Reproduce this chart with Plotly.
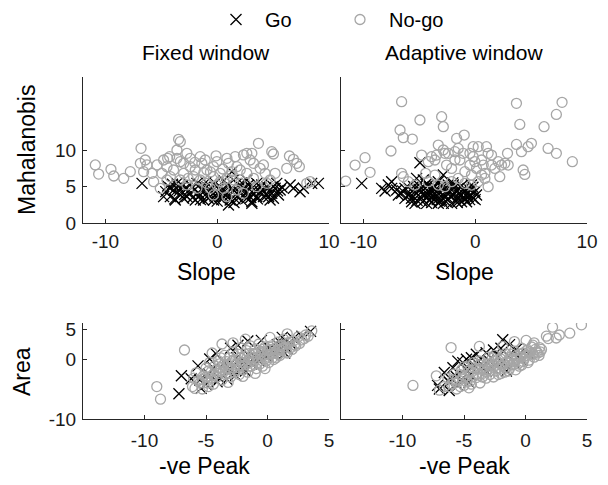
import plotly.graph_objects as go

# ---------------- data ----------------
# Top-left: Fixed window, Slope vs Mahalanobis
fix_go_slope = [-6.72, -4.43, -4.19, -3.9, -3.6, -3.3, -3.0, -2.71, -2.41, -1.96, -1.66, -1.37, -0.92, -0.62,
                -0.33, -0.03, 0.27, 0.57, 1.01, 1.16, 1.46, 1.76, 2.06, 2.35, 2.65, 2.95, 3.1, 3.25, 3.54, 3.84,
                4.14, 4.44, 4.73, 4.88, 5.18, 5.33, 5.48, 6.52, 6.82, 7.41, 7.71, 8.45, 9.05, -3.45, -1.22, 0.87,
                1.46, 2.65, 1.31, -0.62, 0.27, -2.26, -1.81, 2.06, 3.54, 4.44, -4.79, -3.75, 5.63, 3.99, 0.42,
                -0.18, 1.76, 0.87, -1.52, 2.65, -2.71, -4.19, 5.03,
                -3.8, -3.4, -3.1, -2.9, -2.5, -2.2, -2.0, -1.7, -1.5, -1.1, -0.8, -0.5, -0.2, 0.1, 0.4, 0.7,
                1.0, 1.3, 1.6, 1.9, 2.2, 2.5, 2.8, 3.0, 3.3, 3.6, 3.9, 4.2, 4.6, 5.0, 5.4, 5.8, -4.6, -4.0,
                0.0, 1.5, 2.2, -1.0, 0.6, 3.1]
fix_go_maha = [5.43, 5.07, 3.61, 4.52, 5.43, 3.84, 3.38, 4.75, 4.06, 3.15, 3.61, 4.52, 4.98, 3.61,
               3.15, 4.06, 4.98, 3.61, 2.47, 3.15, 4.52, 3.61, 4.06, 4.75, 3.38, 4.98, 2.69, 4.06, 5.43, 4.29,
               3.61, 4.98, 3.15, 4.06, 4.75, 5.43, 3.84, 5.21, 4.75, 4.29, 4.75, 5.43, 5.43, 4.98, 3.15, 5.21,
               5.89, 5.89, 7.03, 4.52, 3.61, 4.98, 5.43, 4.98, 3.61, 3.84, 3.61, 3.15, 4.52, 5.21, 4.29,
               5.43, 5.43, 4.06, 3.84, 4.29, 3.61, 4.75, 3.38,
               3.3, 4.4, 5.1, 3.9, 5.3, 3.5, 4.6, 4.2, 3.2, 4.9, 3.4, 4.3, 3.7, 4.7, 3.2, 4.4,
               3.6, 4.8, 3.3, 4.3, 3.1, 4.0, 5.2, 3.5, 4.6, 3.3, 4.9, 4.3, 3.6, 5.0, 4.4, 4.9, 4.3, 5.3,
               3.0, 2.8, 5.5, 5.6, 5.8, 2.9]
fix_nogo_slope = [-10.9, -10.6, -9.5, -9.25, -8.36, -7.77, -6.81, -6.87, -6.43, -6.58, -6.28, -5.83, -5.68, -5.09,
                  -4.94, -4.79, -4.43, -4.25, -3.45, -3.3, -3.6, -3.3, -3.0, -2.71, -2.41, -1.96, -1.52, -1.37,
                  -1.07, -0.92, -0.33, -0.03, 0.27, 0.87, 1.01, 1.61, 1.76, 2.06, 2.35, 2.65, 2.95, 3.1, 3.25,
                  3.69, 3.84, 4.14, 4.29, 4.88, 5.03, 5.18, 6.22, 6.46, 6.82, 7.12, 7.35, 8.01, 8.31, 4.73,
                  -2.11, -1.52, -0.92, -0.33, 0.27, 0.87, 1.46, 2.06, 2.65, -3.3, -3.0, -3.9, -4.49, -4.19,
                  -0.03, -0.62, 0.57, 1.76, -1.81, -2.71, 0.87, -0.33, 2.35, 3.25, 3.54, -4.49, -5.38, -3.6,
                  -2.41, 1.31, 4.44, -1.2, -0.6, 0.5, -2.0, 1.2, -0.1, -2.6]
fix_nogo_maha = [7.95, 6.7, 7.35, 6.44, 6.12, 7.03, 10.23, 8.17, 8.63, 7.03, 7.95, 6.8, 5.66, 4.75,
                 6.8, 8.63, 8.86, 9.09, 11.46, 11.14, 10.0, 8.4, 8.17, 9.54, 7.72, 7.26, 9.09, 8.17,
                 8.63, 7.26, 7.72, 8.4, 6.8, 8.86, 8.17, 9.09, 7.72, 7.26, 9.32, 9.54, 8.63, 9.54, 8.17,
                 10.91, 7.49, 7.95, 6.8, 9.77, 9.45, 6.8, 7.49, 9.18, 8.72, 8.17, 7.72, 5.43, 5.66, 5.89,
                 6.35, 5.89, 5.43, 6.35, 5.66, 6.12, 5.89, 5.43, 6.8, 5.89, 6.8, 7.26, 5.89, 6.35,
                 5.21, 4.75, 4.75, 4.52, 4.75, 5.21, 3.61, 3.84, 4.06, 6.12, 4.98, 7.72, 7.95, 8.86,
                 8.86, 7.03, 5.43, 6.9, 7.0, 7.4, 8.3, 6.5, 9.2, 6.1]

# Top-right: Adaptive window, Slope vs Mahalanobis
ada_go_slope = [-10.15, -8.36, -8.06, -7.77, -7.47, -7.02, -6.58, -6.28, -5.98, -5.68, -5.38, -4.94, -5.09,
                -4.79, -4.49, -4.34, -4.19, -3.9, -3.6, -3.3, -3.0, -2.85, -2.71, -2.41, -2.11, -1.81, -1.52,
                -1.22, -0.92, -0.62, -0.33, -0.18, -0.03, 0.12, -5.24, -4.64, -3.3, -4.19, -1.52, -2.41, -6.28,
                -5.53, -0.77, -1.96, -2.85, -3.6, -4.79, -4.05, -5.38, -0.47, -6.87, -7.47, -3.7, -2.0, -1.0,
                -4.5, -3.2, -2.5, -1.4, -0.5, -3.9, -2.9,
                -6.0, -5.7, -5.5, -5.2, -5.0, -4.7, -4.4, -4.1, -3.9, -3.6, -3.4, -3.1, -2.9, -2.6, -2.3,
                -2.2, -1.9, -1.7, -1.4, -1.1, -0.9, -0.7, -0.4, -0.2, 0.0, -3.3, -4.7, -2.7, -1.6, -6.5,
                -5.9, -3.8, -2.0, -1.2, -4.3]
ada_go_maha = [5.43, 4.74, 4.38, 5.2, 5.66, 4.52, 4.06, 4.74, 3.83, 2.92, 4.29, 8.26, 5.2,
               3.37, 4.74, 2.69, 3.83, 4.52, 3.37, 4.06, 3.15, 6.57, 4.74, 3.37, 2.69, 4.06, 3.37,
               2.92, 4.29, 3.6, 5.2, 3.37, 4.29, 3.83, 6.11, 5.89, 5.66, 5.2, 4.74, 5.2, 3.37,
               3.6, 2.92, 5.2, 2.69, 4.97, 4.29, 3.15, 2.69, 4.52, 3.83, 4.74, 4.0, 3.8, 3.5,
               3.9, 3.0, 4.3, 4.1, 3.2, 2.8, 4.9,
               4.9, 3.4, 5.0, 3.1, 4.6, 3.9, 5.3, 4.2, 3.5, 4.5, 3.2, 5.0, 3.9, 2.9, 4.4,
               3.6, 4.8, 3.0, 3.8, 4.6, 3.3, 4.0, 3.8, 4.9, 3.2, 2.7, 2.9, 3.5, 2.8, 4.4,
               3.9, 4.9, 5.5, 5.1, 3.5]
ada_nogo_slope = [-11.58, -10.74, -9.85, -9.4, -7.53, -6.58, -6.72, -6.43, -5.62, -4.94, -6.58, -6.43, -5.98,
                  -4.79, -4.43, -4.19, -3.9, -3.45, -3.3, -3.0, -2.85, -2.85, -2.71, -2.41, -2.11, -1.81, -1.66,
                  -1.52, -0.98, -1.07, -0.92, -0.47, -0.18, -0.18, -0.03, 0.12, 0.27, 0.57, 0.72, 0.87, 1.01,
                  1.16, 1.46, 1.76, 2.06, 2.2, 2.35, 2.65, 2.95, 2.89, -2.71, -2.11, -1.52, -0.92, -0.33, 0.27,
                  1.16, 0.87, 3.69, 3.99, 3.69, 4.14, 4.29, 4.44, 4.73, 5.03, 6.16, 6.52, 7.26, 7.26, 7.77,
                  8.69, -4.19, -3.6, -5.38, -3.3, -2.56, -1.37, -0.33, 0.57, -3.6, -1.81, -0.47, 1.46]
ada_nogo_maha = [5.75, 7.94, 8.95, 6.94, 9.86, 16.62, 12.74, 11.69, 11.5, 14.11, 6.8, 6.34, 5.66,
                 9.31, 6.8, 8.4, 9.08, 9.31, 10.68, 14.56, 13.19, 10.0, 9.54, 9.54, 7.48, 9.77, 11.59,
                 10.22, 12.05, 9.54, 7.03, 7.94, 10.45, 9.08, 8.4, 7.48, 10.45, 8.63, 7.94, 6.8, 10.45,
                 9.54, 9.31, 7.48, 8.4, 6.34, 7.94, 8.17, 7.94, 9.54, 4.97, 5.66, 6.11, 5.43, 5.2, 5.66,
                 4.97, 6.11, 16.39, 13.51, 10.77, 9.77, 7.26, 6.66, 10.45, 10.91, 13.19, 10.22, 14.88, 9.54, 16.53,
                 8.4, 5.66, 6.57, 5.2, 5.2, 7.94, 8.63, 6.57, 6.57, 8.63, 8.63, 9.54, 7.94]

# Bottom-left: Fixed window, -ve Peak vs Area
fix_go_peak = [-7.2, -7.0, -6.2, -5.4, -5.65, -4.7, -3.0, -1.6, 0.8, 1.6, 2.1, 3.5, -4.2, -2.4, -0.5, 1.2, 2.8,
               -5.5, -4.8, -4.4, -3.9, -3.5, -3.2, -2.8, -2.5, -2.2, -1.9, -1.6, -1.3, -1.0, -0.7, -0.4, -0.1,
               0.2, 0.5, 0.9, 1.1, 1.4, 1.9, -5.0, -4.1, -3.3, -2.6, -1.8]
fix_go_area = [-5.8, -2.8, -3.3, -4.9, -1.15, 0.0, 1.8, 3.0, 2.4, 1.8, 3.4, 4.6, 0.9, 2.3, 3.1, 3.6, 3.8,
               -3.5, -2.5, -1.5, -3.2, -0.6, -2.0, -1.0, 0.2, -1.6, -0.4, 0.8, -0.8, 0.4, -0.3, 1.0, 0.5,
               1.8, 0.9, 1.3, 2.6, 1.0, 2.5, -4.2, -3.8, -3.4, -2.7, -2.0]
fix_nogo_peak = [-9.0, -8.7, -6.75, -6.1, -6.0, -5.8, -5.5, -5.3, -5.2, -5.0, -4.9, -4.7, -4.6, -4.4, -4.3,
                 -4.1, -4.0, -3.9, -3.7, -3.7, -3.6, -3.5, -3.4, -3.3, -3.1, -3.0, -2.9, -2.8, -2.8, -2.7,
                 -2.6, -2.5, -2.4, -2.3, -2.2, -2.1, -2.0, -1.9, -1.8, -1.8, -1.7, -1.6, -1.5, -1.4, -1.3,
                 -1.2, -1.1, -1.0, -0.9, -0.8, -0.7, -0.6, -0.5, -0.4, -0.3, -0.2, -0.1, 0.0, 0.1, 0.2, 0.3,
                 0.4, 0.5, 0.6, 0.8, 0.9, 1.0, 1.2, 1.3, 1.5, 1.6, 1.7, 1.9, 2.1, 2.3, 2.5, 2.8, 3.1, 3.6,
                 -5.9, -4.8, -3.2, -2.0, -1.0, -0.2, 0.7, -3.8, -4.5,
                 -5.6, -5.3, -5.0, -4.8, -4.6, -4.4, -4.2, -4.0, -3.8, -3.6, -3.4, -3.2, -3.0, -2.8, -2.6,
                 -2.4, -2.2, -2.0, -1.8, -1.6, -1.4, -1.2, -1.0, -0.8, -0.6, -0.4, -0.2, 0.0, 0.2, 0.4,
                 0.6, 0.8, 1.0, 1.2, 1.4, 1.6, 1.8, 2.0, 2.2, 2.6, 3.0, 3.3, -3.9, -3.1, -2.3, -1.5,
                 -0.7, 0.1, 0.9, -4.9]
fix_nogo_area = [-4.6, -6.7, 1.5, -4.6, -3.2, -2.3, -4.0, -5.0, -2.8, -1.5, -3.6, -0.6, -2.2, -4.2, -1.2,
                 -3.0, -0.3, -2.0, 2.5, -3.5, -1.0, 0.6, -2.6, -1.6, 0.2, -3.0, -0.8, 1.2, 2.7, -2.2,
                 -0.2, -1.4, 0.8, -2.6, 1.8, -0.6, -1.8, 0.4, 3.3, -1.0, 1.4, -2.2, 0.0, 2.2, -1.2,
                 0.9, -0.4, 1.7, -1.6, 0.3, 2.5, -0.8, 1.2, -1.2, 0.6, 2.0, -0.3, 1.4, 0.3, 3.6, 2.2,
                 0.9, -0.1, 1.8, 2.8, 0.8, 1.6, 2.3, 3.3, 1.2, 4.2, 2.6, 1.9, 3.0, 2.2, 3.7, 3.2, 4.0, 4.7,
                 -4.9, -4.6, -3.9, -2.9, -2.4, -1.6, 0.2, 0.2, 1.0,
                 -3.6, -3.4, -3.0, -2.0, -3.2, -2.6, -1.8, -2.4, -1.4, -2.2, -0.4, -1.0, -1.8, -0.2, -1.0,
                 -1.8, 0.2, -0.6, 0.8, -0.4, -1.2, 0.2, 0.9, -0.6, 0.4, 1.6, 0.0, 0.8, 1.6, 0.2,
                 1.0, 1.5, 0.6, 1.4, 2.0, 1.0, 2.8, 1.6, 2.4, 2.6, 3.4, 3.8, -0.8, -2.4, -1.0, 0.9,
                 1.4, -0.6, 2.2, -4.0]

# Bottom-right: Adaptive window, -ve Peak vs Area
ada_go_peak = [-7.15, -7.0, -6.6, -6.2, -5.9, -5.5, -5.1, -4.8, -4.4, -4.0, -3.2, -1.85, -1.3, -0.75, -3.2,
               -2.4, -1.55, -6.2, -6.3, -5.7, -5.2, -4.9, -4.5, -4.2, -3.8, -3.5, -3.0, -2.7, -2.2, -1.9,
               -1.4, -1.0, -0.6, -0.3, 0.2, -2.6, -2.0, -4.6, -5.5]
ada_go_area = [-4.4, -5.0, -2.25, -3.9, -1.45, -0.35, -0.6, -0.05, 0.2, 0.8, 1.05, 3.2, 2.4, 1.6, -2.0,
               -0.9, -2.0, -5.25, -3.6, -2.8, -3.4, -1.6, -2.6, -1.0, -0.4, -1.5, -0.2, -1.4, 0.4, -0.6,
               0.5, -0.5, 0.6, -0.2, 0.9, 1.5, 1.8, -3.9, -4.4]
ada_nogo_peak = [-9.15, -7.25, -6.05, -3.75, -1.85, -0.9, 0.05, 0.7, 1.15, 1.7, 1.85, 2.2, 2.5, 2.75, 3.6, 4.55,
                 -7.0, -6.6, -6.3, -6.0, -5.8, -5.6, -5.4, -5.2, -5.0, -4.9, -4.7, -4.5, -4.4, -4.2, -4.0,
                 -3.9, -3.7, -3.6, -3.5, -3.3, -3.2, -3.0, -2.9, -2.7, -2.6, -2.5, -2.3, -2.2, -2.0, -1.9,
                 -1.7, -1.6, -1.5, -1.3, -1.2, -1.0, -0.9, -0.8, -0.7, -0.5, -0.4, -0.3, -0.2, 0.0, 0.1,
                 0.2, 0.4, 0.5, 0.7, 0.9, 1.1, 1.3, -3.8, -2.4, -1.1, -4.6, -5.3,
                 -6.2, -5.9, -5.6, -5.3, -5.1, -4.8, -4.6, -4.3, -4.1, -3.9, -3.7, -3.5, -3.4, -3.1, -2.9,
                 -2.8, -2.6, -2.4, -2.2, -2.1, -1.9, -1.8, -1.6, -1.4, -1.2, -1.1, -0.9, -0.7, -0.6, -0.4,
                 -0.2, -0.1, 0.1, 0.3, 0.3, 0.6, 0.8, 1.0, 1.2, -2.0, -3.2, -4.4, -1.4, -0.3, 0.6, -2.7,
                 -3.8, -5.0]
ada_nogo_area = [-4.4, -2.8, 1.9, 2.1, 2.1, 2.9, 3.1, 2.7, 1.9, 3.8, 3.4, 5.3, 3.5, 4.0, 4.3, 5.7,
                 -5.2, -4.6, -3.2, -4.2, -2.5, -5.0, -3.6, -1.8, -4.4, -2.9, -1.2, -3.7, -2.2, -0.6, -3.1,
                 -1.6, -4.0, -0.4, -2.4, -1.2, -3.2, 0.3, -2.0, -0.8, -3.0, 0.6, -1.5, -2.6, 0.0, -1.1,
                 -2.2, 0.9, -0.5, -1.6, 0.3, -0.9, 1.3, -1.8, 0.0, -1.2, 0.8, 1.8, -0.4, 0.5, 1.4,
                 -0.6, 0.9, 2.0, 0.3, 1.2, 0.6, 1.6, -2.7, -0.2, 0.0, -4.8, -4.6,
                 -4.6, -3.5, -3.9, -2.6, -3.2, -3.8, -2.0, -3.0, -1.6, -2.4, -1.0, -3.0, -1.8, -0.8, -2.6,
                 -1.2, -0.4, -2.0, -0.6, -1.6, 0.4, -0.8, -1.4, -0.2, -1.0, 0.8, -0.4, 0.6, -0.8, 0.2,
                 1.0, 0.0, 0.6, 1.2, -0.2, 0.8, 1.6, 1.0, 1.2, -2.4, -2.1, -4.2, -2.0, -1.0, 2.3, 0.2,
                 -0.3, -1.3]

panel_titles = ["Fixed window", "Adaptive window"]
legend_names = ["Go", "No-go"]
slope_ticks = [-10, 0, 10]
maha_ticks = [0, 5, 10]
peak_ticks = [-10, -5, 0, 5]
area_ticks = [-10, 0, 5]

# ---------------- styling ----------------
# The page body has an 8px margin, so the figure is drawn 8px in from the window corner;
# it is sized so that it exactly fills the rest of the 608x485 window.
OFF = 8
W, H = 608 - OFF, 485 - OFF
FONT = "Liberation Sans, Arial, sans-serif"
AX = "#262626"
GREY = "#a6a6a6"
GO_MK = dict(symbol="x-thin", size=11, color="black", line=dict(width=1.3, color="black"))
NOGO_MK = dict(symbol="circle-open", size=10, color=GREY, line=dict(width=1.3, color=GREY))


def px(v):
    """window x-pixel -> paper fraction"""
    return (v - OFF) / W


def py(v):
    """window y-pixel -> paper fraction"""
    return 1 - (v - OFF) / H


def labels(vals):
    return [str(v) for v in vals]  # plain hyphen-minus like the reference


fig = go.Figure()

panels = [
    ("x", "y", fix_go_slope, fix_go_maha, fix_nogo_slope, fix_nogo_maha),
    ("x2", "y2", ada_go_slope, ada_go_maha, ada_nogo_slope, ada_nogo_maha),
    ("x3", "y3", fix_go_peak, fix_go_area, fix_nogo_peak, fix_nogo_area),
    ("x4", "y4", ada_go_peak, ada_go_area, ada_nogo_peak, ada_nogo_area),
]
for i, (xa, ya, gx, gy, nx, ny) in enumerate(panels):
    fig.add_trace(go.Scatter(x=gx, y=gy, xaxis=xa, yaxis=ya, mode="markers", marker=GO_MK,
                             name=legend_names[0], showlegend=(i == 0), legend="legend"))
    fig.add_trace(go.Scatter(x=nx, y=ny, xaxis=xa, yaxis=ya, mode="markers", marker=NOGO_MK,
                             name=legend_names[1], showlegend=(i == 0), legend="legend2"))

axis_common = dict(showline=True, linecolor=AX, linewidth=1, ticks="inside", ticklen=4, tickcolor=AX,
                   showgrid=False, zeroline=False, mirror=False, automargin=False,
                   tickfont=dict(family=FONT, size=19, color="#1a1a1a"))

xl = [px(83), px(329)]
xr = [px(341), px(587)]
yt = [py(223), py(77)]
yb = [py(419), py(323)]

fig.update_layout(
    xaxis=dict(domain=xl, range=[-12, 10], tickvals=slope_ticks, ticktext=labels(slope_ticks), anchor="y",
               ticklabelstandoff=1, **axis_common),
    yaxis=dict(domain=yt, range=[0, 20], tickvals=maha_ticks, ticktext=labels(maha_ticks), anchor="x",
               ticklabelstandoff=2, **axis_common),
    xaxis2=dict(domain=xr, range=[-12, 10], tickvals=slope_ticks, ticktext=labels(slope_ticks), anchor="y2",
                ticklabelstandoff=1, **axis_common),
    yaxis2=dict(domain=yt, range=[0, 20], tickvals=maha_ticks, anchor="x2", showticklabels=False, **axis_common),
    xaxis3=dict(domain=xl, range=[-15, 5], tickvals=peak_ticks, ticktext=labels(peak_ticks), anchor="y3",
                ticklabelstandoff=4, **axis_common),
    yaxis3=dict(domain=yb, range=[-10, 6], tickvals=area_ticks, ticktext=labels(area_ticks), anchor="x3",
                ticklabelstandoff=2, **axis_common),
    xaxis4=dict(domain=xr, range=[-15, 5], tickvals=peak_ticks, ticktext=labels(peak_ticks), anchor="y4",
                ticklabelstandoff=4, **axis_common),
    yaxis4=dict(domain=yb, range=[-10, 6], tickvals=area_ticks, anchor="x4", showticklabels=False, **axis_common),
)

# margins never auto-expand (autoexpand=False), so the legends may sit slightly above the paper top
leg_common = dict(orientation="h", font=dict(family=FONT, size=20, color="black"), itemwidth=48,
                  bgcolor="rgba(0,0,0,0)", borderwidth=0, xanchor="left", yanchor="top")
LEG_Y = 1 + 8 / H
fig.update_layout(
    legend=dict(x=px(207), y=LEG_Y, **leg_common),
    legend2=dict(x=px(331), y=LEG_Y, **leg_common),
)

annots = [
    dict(text=panel_titles[0], x=px(206), y=py(52), font=dict(size=21)),
    dict(text=panel_titles[1], x=px(464), y=py(52), font=dict(size=21)),
    dict(text="Mahalanobis", x=px(27), y=py(150), textangle=-90, font=dict(size=23)),
    dict(text="Slope", x=px(206), y=py(272), font=dict(size=23)),
    dict(text="Slope", x=px(464), y=py(272), font=dict(size=23)),
    dict(text="Area", x=px(22), y=py(372), textangle=-90, font=dict(size=23)),
    dict(text="-ve Peak", x=px(204), y=py(466), font=dict(size=23)),
    dict(text="-ve Peak", x=px(464), y=py(466), font=dict(size=23)),
]
for a in annots:
    a.update(xref="paper", yref="paper", showarrow=False, xanchor="center", yanchor="middle")
    a["font"].update(family=FONT, color="black")
fig.update_layout(annotations=annots)

fig.update_layout(width=W, height=H, margin=dict(l=0, r=0, t=0, b=0, autoexpand=False),
                  paper_bgcolor="white", plot_bgcolor="white")

fig.write_html("out.html")
